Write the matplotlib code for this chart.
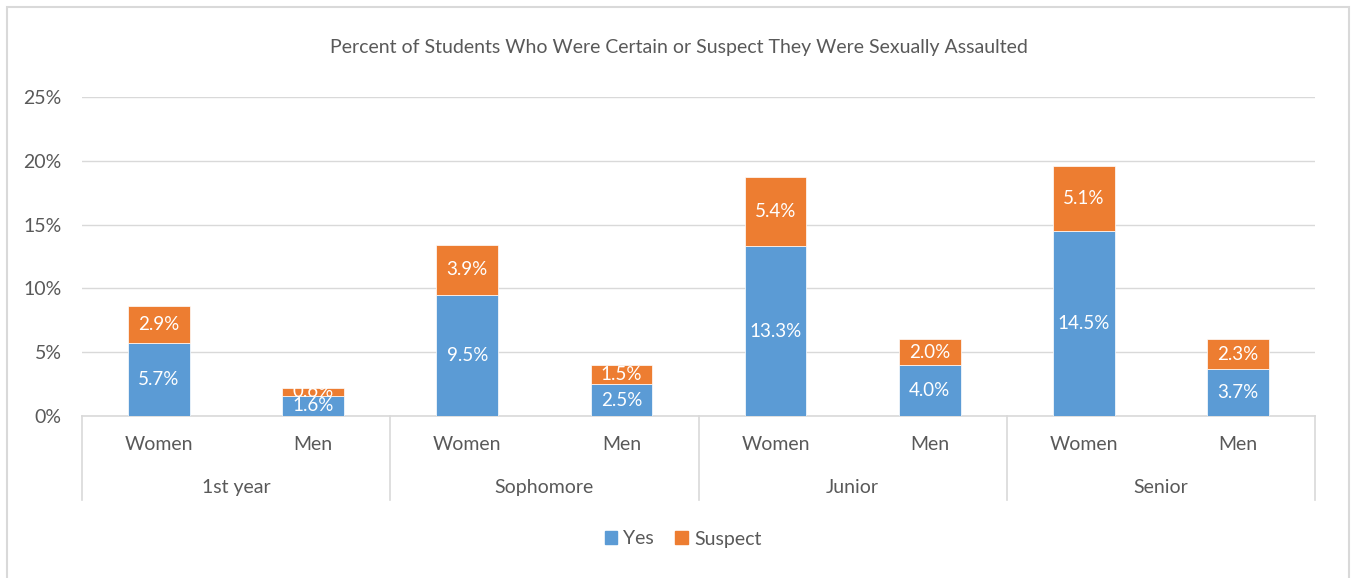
import numpy as np
import matplotlib.pyplot as plt
import matplotlib.transforms as mtransforms
from matplotlib.patches import Rectangle, Patch

plt.rcParams['font.family'] = ['Lato', 'DejaVu Sans']

# data (percent)
years = ["1st year", "Sophomore", "Junior", "Senior"]
genders = ["Women", "Men"]
yes = [5.7, 1.6, 9.5, 2.5, 13.3, 4.0, 14.5, 3.7]
suspect = [2.9, 0.6, 3.9, 1.5, 5.4, 2.0, 5.1, 2.3]

blue = "#5B9BD5"
orange = "#ED7D31"
grey_txt = "#595959"
grid_col = "#D9D9D9"

W, H = 1351, 578
fig = plt.figure(figsize=(W / 100, H / 100), dpi=100)
ax = fig.add_axes([82 / W, (H - 416) / H, (1315 - 82) / W, (416 - 97) / H])

x = np.arange(len(yes))
b1 = ax.bar(x, yes, width=0.4, color=blue, edgecolor="white", linewidth=0.5, zorder=3)
b2 = ax.bar(x, suspect, width=0.4, bottom=yes, color=orange, edgecolor="white",
            linewidth=0.5, zorder=3)

for i in range(len(x)):
    ax.text(x[i], yes[i] / 2, f"{yes[i]:.1f}%", ha="center", va="center",
            color="white", fontsize=13.5, zorder=4)
    ax.text(x[i], yes[i] + suspect[i] / 2, f"{suspect[i]:.1f}%", ha="center",
            va="center", color="white", fontsize=13.5, zorder=4)

ax.set_xlim(-0.5, len(x) - 0.5)
ax.set_ylim(0, 25)
ax.set_yticks(np.arange(0, 26, 5))
ax.set_yticklabels([f"{v}%" for v in range(0, 26, 5)])
ax.tick_params(axis="y", length=0, pad=14.5, labelsize=14, labelcolor=grey_txt)
ax.set_xticks([])
ax.grid(axis="y", color=grid_col, linewidth=1, zorder=0)
for s in ["top", "right", "left"]:
    ax.spines[s].set_visible(False)
ax.spines["bottom"].set_color(grid_col)
ax.spines["bottom"].set_linewidth(1.2)

# two-level category axis
trans = mtransforms.blended_transform_factory(ax.transData, ax.transAxes)
for xb in [-0.5, 1.5, 3.5, 5.5, 7.5]:
    ax.plot([xb, xb], [0, -0.263], transform=trans, color=grid_col, lw=1.2,
            clip_on=False)
for i in range(len(x)):
    ax.text(x[i], -0.088, genders[i % 2], transform=trans, ha="center", va="center",
            fontsize=14, color=grey_txt)
for j, name in enumerate(years):
    ax.text(2 * j + 0.5, -0.223, name, transform=trans, ha="center", va="center",
            fontsize=14, color=grey_txt)

fig.text(679 / W, (H - 47) / H, "Percent of Students Who Were Certain or Suspect They Were Sexually Assaulted",
         ha="center", va="center", fontsize=14, color=grey_txt)

handles = [Patch(color=blue, label="Yes"), Patch(color=orange, label="Suspect")]
fig.legend(handles=handles, loc="center", bbox_to_anchor=(683 / W, (H - 539) / H), ncol=2,
           frameon=False, fontsize=14, handlelength=0.65, handleheight=0.65,
           handletextpad=0.3, columnspacing=1.1, labelcolor=grey_txt)

# chart frame
fig.patches.append(Rectangle((7 / W, -0.1), (1349 - 7) / W, (H - 7) / H + 0.1,
                             transform=fig.transFigure, fill=False,
                             edgecolor=grid_col, linewidth=1.5))

fig.savefig("out.png", dpi=100)
